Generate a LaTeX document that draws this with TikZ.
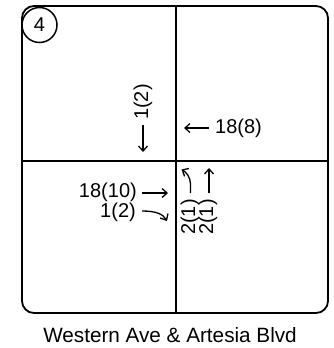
\documentclass[tikz,border=0pt]{standalone}
\usepackage{fontspec}
\setmainfont{Liberation Sans}
\usetikzlibrary{arrows.meta}
\begin{document}
\begin{tikzpicture}[x=1pt,y=-1pt,
  frame/.style={line width=1.8pt},
  lbl/.style={font=\fontsize{20}{20}\selectfont, inner sep=0pt},
  mv/.style={line width=1.3pt,-{Straight Barb[length=5pt,width=9pt,line width=1.3pt]}}]
\useasboundingbox (0,0) rectangle (333,348);
\draw[frame, rounded corners=12pt] (22,6) rectangle (328,313);
\draw[frame] (175.7,6) -- (175.7,313);
\draw[frame] (22,161) -- (328,161);
\node[draw, fill=white, circle, line width=1.5pt, minimum size=35pt, inner sep=0pt, lbl] (id) at (39.5,25) {4};
% southbound
\node[lbl, rotate=90] (sbl) at (143,102) {1(2)};
\coordinate (sb1) at (143,125); \coordinate (sb2) at (143,152);
\draw[mv] (sb1) -- (sb2);
% westbound
\node[lbl, anchor=west] (wbl) at (215,128) {18(8)};
\coordinate (wb1) at (209,128); \coordinate (wb2) at (184,128);
\draw[mv] (wb1) -- (wb2);
% eastbound
\node[lbl, anchor=east] (ebt) at (137,192) {18(10)};
\node[lbl, anchor=east] (ebr) at (136,212) {1(2)};
\coordinate (et1) at (142,193); \coordinate (et2) at (168,193);
\draw[mv] (et1) -- (et2);
\coordinate (er1) at (142,211); \coordinate (er2) at (167,221);
\draw[mv] (er1) .. controls (156,211) and (163,214) .. (er2);
% northbound
\coordinate (nl1) at (190.5,193); \coordinate (nl2) at (181.5,169.5);
\draw[mv] (nl1) -- (190.5,184) .. controls (190.5,177) and (186,172) .. (nl2);
\coordinate (nt1) at (209,193); \coordinate (nt2) at (209,168);
\draw[mv] (nt1) -- (nt2);
\node[lbl, rotate=90] (nbl) at (190,217) {2(1)};
\node[lbl, rotate=90] (nbt) at (208,217) {2(1)};
% caption
\node[font=\fontsize{20.7}{21}\selectfont, inner sep=0pt, anchor=base] (cap) at (170,342) {Western Ave \& Artesia Blvd};
\end{tikzpicture}
\end{document}
